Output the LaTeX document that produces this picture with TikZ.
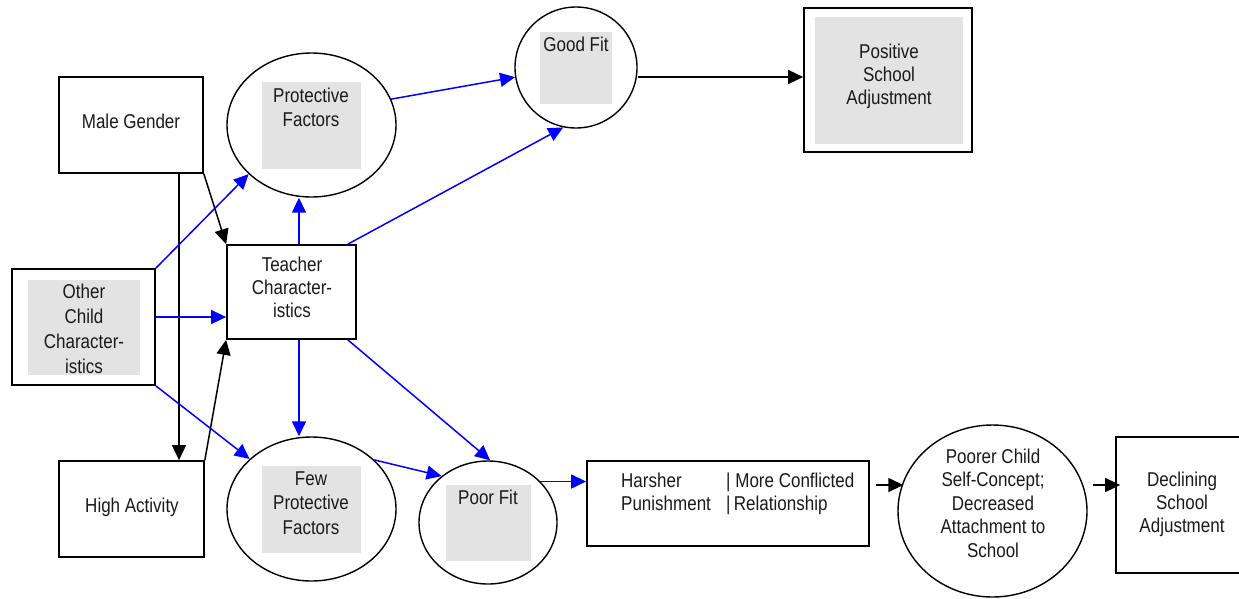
\documentclass[tikz,border=0pt]{standalone}
\usepackage{fontspec}
\setmainfont{Liberation Sans}[FakeStretch=0.85]
\usetikzlibrary{shapes.geometric,arrows.meta}
\definecolor{grayfill}{HTML}{E3E3E3}
\definecolor{lineblue}{HTML}{0000FF}
\definecolor{txtcol}{HTML}{1A1A1A}
\begin{document}
\begin{tikzpicture}[x=1pt,y=-1pt,
  boxnode/.style={draw=black,line width=1.7pt,rectangle,inner sep=0pt,fill=white},
  ellnode/.style={draw=black,line width=1.4pt,ellipse,inner sep=0pt,fill=white},
  graynode/.style={fill=grayfill,draw=none,rectangle,inner sep=0pt},
  txt/.style={inner sep=0pt,align=center,anchor=base,text=txtcol,font=\fontsize{20}{24}\selectfont},
  blk/.style={draw=black,line width=1.5pt,-{Triangle[length=15pt,width=14pt]}},
  blu/.style={draw=lineblue,line width=1.5pt,-{Triangle[length=15pt,width=14pt]}}
]
\useasboundingbox (0,0) rectangle (1239,598);
\clip (0,0) rectangle (1239,598);
\fill[white] (0,0) rectangle (1239,598);

% shapes
\node[boxnode,minimum width=144pt,minimum height=96pt] (male) at (131,125) {};
\node[ellnode,minimum width=169pt,minimum height=144pt] (prot) at (311.5,125) {};
\node[graynode,minimum width=99pt,minimum height=87pt] (protg) at (311.5,125.5) {};
\node[boxnode,minimum width=129pt,minimum height=94pt] (teacher) at (291.5,292) {};
\node[boxnode,minimum width=143pt,minimum height=116pt] (other) at (83.5,327) {};
\node[graynode,minimum width=112pt,minimum height=95pt] (otherg) at (84,327.5) {};
\node[boxnode,minimum width=145pt,minimum height=96pt] (high) at (131.5,509) {};
\node[ellnode,minimum width=169pt,minimum height=144pt] (few) at (311.5,509) {};
\node[graynode,minimum width=99pt,minimum height=87pt] (fewg) at (311.5,509.5) {};
\node[ellnode,minimum width=122pt,minimum height=121pt] (gf) at (576,67.5) {};
\node[graynode,minimum width=72pt,minimum height=72pt] (gfg) at (576,68) {};
\node[boxnode,minimum width=168pt,minimum height=144pt] (pos) at (888,80) {};
\node[graynode,minimum width=148pt,minimum height=127pt] (posg) at (889,80.5) {};
\node[ellnode,minimum width=138pt,minimum height=123pt] (poor) at (488,522.5) {};
\node[graynode,minimum width=85pt,minimum height=76pt] (poorg) at (488.5,523) {};
\node[boxnode,minimum width=282pt,minimum height=85pt] (harsh) at (728,503.5) {};
\node[ellnode,minimum width=189pt,minimum height=172pt] (poorer) at (992.5,511) {};
\node[boxnode,minimum width=133pt,minimum height=136pt] (decl) at (1182.5,505) {};

% texts (anchor=base is the baseline of the last line)
\node[txt] (tmale) at (131,128) {Male Gender};
\node[txt] (tprot) at (311,126) {Protective\\Factors};
\node[txt,font=\fontsize{20}{23}\selectfont] (tteacher) at (292,317) {Teacher\\Character-\\istics};
\node[txt,font=\fontsize{20}{25}\selectfont] (tother) at (84,373) {Other\\Child\\Character-\\istics};
\node[txt] (thigh) at (132,512) {High Activity};
\node[txt,font=\fontsize{20}{24.5}\selectfont] (tfew) at (311,534) {Few\\Protective\\Factors};
\node[txt] (tgf) at (576,51) {Good Fit};
\node[txt,font=\fontsize{20}{23}\selectfont] (tpos) at (889,104) {Positive\\School\\Adjustment};
\node[txt] (tpoor) at (488,504) {Poor Fit};
\node[txt,anchor=base west] (th1) at (621,487) {Harsher};
\node[txt,anchor=base west] (th2) at (726,487) {| More Conflicted};
\node[txt,anchor=base west] (th3) at (621,510) {Punishment};
\node[txt,anchor=base west] (th4) at (726,510) {|\,Relationship};
\node[txt,font=\fontsize{20}{23.5}\selectfont] (tpoorer) at (993,557) {Poorer Child\\Self-Concept;\\Decreased\\Attachment to\\School};
\node[txt,font=\fontsize{20}{23}\selectfont] (tdecl) at (1182,532) {Declining\\School\\Adjustment};

% black connectors
\draw[blk] (male.south east) -- (teacher.north west);
\draw[blk] ([xshift=48pt]male.south) -- ([xshift=48pt]male.south |- high.north);
\draw[blk] (high.north east) -- (teacher.south west);
\draw[blk] ([yshift=-9.5pt]gf.east) -- ([yshift=-9.5pt]gf.east -| pos.west);
\draw[blk] ([shift={(6pt,18.5pt)}]harsh.east) -- ([shift={(6pt,18.5pt)}]harsh.east -| poorer.west);
\draw[blk] ([shift={(5pt,26pt)}]poorer.east) -- ([shift={(5pt,26pt)}]poorer.east -| decl.west);

% blue connectors
\draw[blu] (other.north east) -- (prot.218);
\draw[blu] ([yshift=10pt]other.east) -- ([yshift=10pt]other.east -| teacher.west);
\draw[blu] (other.south east) -- (few.141);
\draw[blu] ([xshift=7.5pt]teacher.north) -- ([xshift=7.5pt]teacher.north |- prot.south);
\draw[blu] ([xshift=-9pt]teacher.north east) -- (gf.258);
\draw[blu] (prot.18) -- (gf.189);
\draw[blu] ([xshift=7.5pt]teacher.south) -- ([xshift=7.5pt]teacher.south |- few.north);
\draw[blu] ([xshift=-9pt]teacher.south east) -- (poor.88);
\draw[blu] (few.38) -- (poor.135);
\draw[blu] (poor.38) -- (poor.38 -| harsh.west);
\end{tikzpicture}
\end{document}
